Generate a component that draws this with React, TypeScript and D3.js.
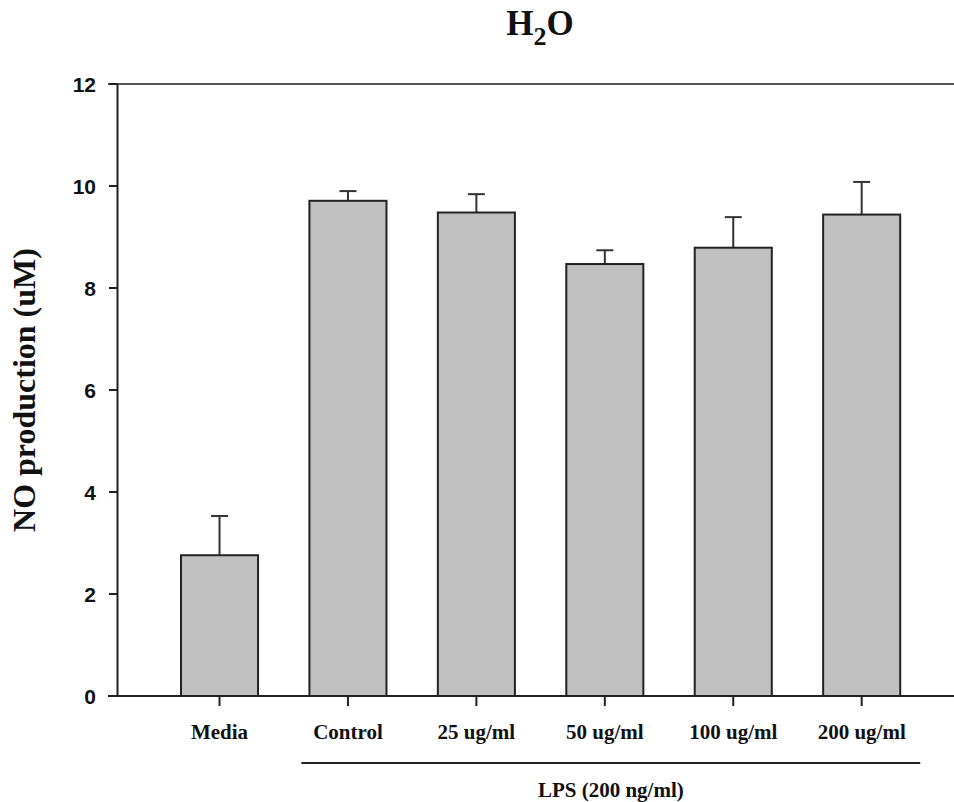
import React from "react";
import * as d3 from "d3";

const categories = ["Media", "Control", "25 ug/ml", "50 ug/ml", "100 ug/ml", "200 ug/ml"];
const means = [2.76, 9.71, 9.48, 8.47, 8.79, 9.44];
const errors = [0.77, 0.19, 0.36, 0.27, 0.6, 0.64];
const yTicks = [0, 2, 4, 6, 8, 10, 12];
const titleMain = "H";
const titleSub = "2";
const titleEnd = "O";
const yTitle = "NO production (uM)";
const groupLabel = "LPS (200 ng/ml)";
const groupMembers = ["Control", "25 ug/ml", "50 ug/ml", "100 ug/ml", "200 ug/ml"];

const W = 954;
const H = 802;
const axisX = 117.5;
const rightEdge = 954;

export default function App() {
  const y = d3.scaleLinear().domain([0, 12]).range([696, 84]);
  const x = d3
    .scaleBand<string>()
    .domain(categories)
    .range([155.3, 925.9])
    .paddingInner(0.4)
    .paddingOuter(0.2);
  const bw = x.bandwidth();
  const cap = 17;
  const first = x(groupMembers[0])!;
  const last = x(groupMembers[groupMembers.length - 1])! + bw;
  const serif = "'Liberation Serif', 'Times New Roman', serif";
  const sans = "'Liberation Sans', Arial, sans-serif";

  return (
    <svg
      width={W}
      height={H}
      style={{ position: "absolute", left: 0, top: 0, background: "#fff" }}
    >
      {/* title */}
      <text x={540} y={35} textAnchor="middle" fontFamily={serif} fontWeight="bold" fontSize={35} fill="#111">
        {titleMain}
        <tspan fontSize={26} dy={10}>{titleSub}</tspan>
        <tspan fontSize={35} dy={-10}>{titleEnd}</tspan>
      </text>

      {/* bars */}
      {categories.map((c, i) => {
        const x0 = x(c)!;
        const cx = x0 + bw / 2;
        return (
          <g key={c}>
            <line x1={cx} x2={cx} y1={y(means[i])} y2={y(means[i] + errors[i])} stroke="#333" strokeWidth={2} />
            <line x1={cx - cap / 2} x2={cx + cap / 2} y1={y(means[i] + errors[i])} y2={y(means[i] + errors[i])} stroke="#333" strokeWidth={2} />
            <rect x={x0} y={y(means[i])} width={bw} height={y(0) - y(means[i])} fill="#c0c0c0" stroke="#222" strokeWidth={2} />
          </g>
        );
      })}

      {/* top line and x axis */}
      <line x1={108} x2={rightEdge} y1={y(12)} y2={y(12)} stroke="#555" strokeWidth={2.2} />
      <line x1={108} x2={rightEdge} y1={y(0)} y2={y(0)} stroke="#222" strokeWidth={2} />
      {/* y axis */}
      <line x1={axisX} x2={axisX} y1={y(12)} y2={y(0)} stroke="#222" strokeWidth={2} />

      {yTicks.map((t) => (
        <g key={t}>
          <line x1={109} x2={axisX} y1={y(t)} y2={y(t)} stroke="#222" strokeWidth={2} />
          <text x={96} y={y(t)} dy="0.36em" textAnchor="end" fontFamily={sans} fontWeight="bold" fontSize={21} fill="#111">
            {t}
          </text>
        </g>
      ))}

      {categories.map((c) => {
        const cx = x(c)! + bw / 2;
        return (
          <g key={"t" + c}>
            <line x1={cx} x2={cx} y1={y(0)} y2={y(0) + 10} stroke="#222" strokeWidth={2} />
            <text x={cx} y={739} textAnchor="middle" fontFamily={serif} fontWeight="bold" fontSize={21} fill="#111">
              {c}
            </text>
          </g>
        );
      })}

      {/* group line */}
      <line x1={first - 8} x2={last + 20} y1={763} y2={763} stroke="#222" strokeWidth={2} />
      <text x={(first - 8 + last + 20) / 2} y={797} textAnchor="middle" fontFamily={serif} fontWeight="bold" fontSize={21} fill="#111">
        {groupLabel}
      </text>

      {/* y title */}
      <text
        transform={`translate(35, ${(y(0) + y(12)) / 2}) rotate(-90)`}
        textAnchor="middle"
        fontFamily={serif}
        fontWeight="bold"
        fontSize={32}
        fill="#111"
      >
        {yTitle}
      </text>
    </svg>
  );
}
